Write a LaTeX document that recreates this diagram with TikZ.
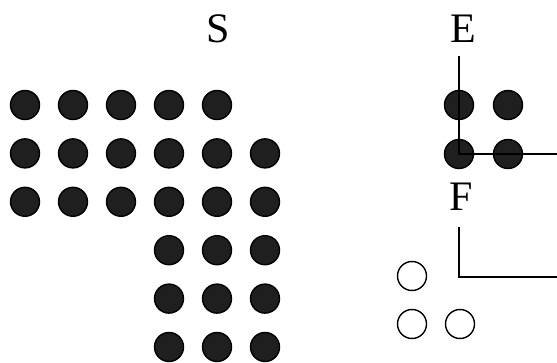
\documentclass[tikz,border=0pt]{standalone}
\usepackage{fontspec}
\setmainfont{Liberation Serif}
\usepackage{tikz}
\usetikzlibrary{arrows.meta,positioning,calc}

\begin{document}
\begin{tikzpicture}[
  x=1pt, y=-1pt,
  dot/.style={circle, draw=black, fill=black!88, line width=1.4pt,
    minimum size=29pt, inner sep=0pt},
  hole/.style={circle, draw=black, fill=white, line width=1.4pt,
    minimum size=29pt, inner sep=0pt},
  lbl/.style={font=\fontsize{42}{48}\selectfont, inner sep=0pt},
  axis/.style={line width=1.6pt},
]
  \useasboundingbox (0,0) rectangle (557,363);

  % structuring set S
  \node[lbl] (S) at (218,29) {S};
  \foreach \c in {1,...,5}
    \node[dot] (s1\c) at ({25+48*(\c-1)},105) {};
  \foreach \r in {2,3}
    \foreach \c in {1,...,6}
      \node[dot] (s\r\c) at ({25+48*(\c-1)},{105+48.4*(\r-1)}) {};
  \foreach \r in {4,5,6}
    \foreach \c in {4,5,6}
      \node[dot] (s\r\c) at ({25+48*(\c-1)},{105+48.4*(\r-1)}) {};

  % element E
  \node[lbl] (E) at (463,29) {E};
  \node[dot] (e11) at (459,105) {};
  \node[dot] (e12) at (508,105) {};
  \node[dot] (e21) at (459,154) {};
  \node[dot] (e22) at (508,154) {};
  \coordinate (eTop) at (459,56);
  \coordinate (eEnd) at (557,154);
  \draw[axis] (eTop) |- (eEnd);

  % result F
  \node[lbl] (F) at (461,197) {F};
  \node[hole] (f11) at (412,276) {};
  \node[hole] (f21) at (412,324) {};
  \node[hole] (f22) at (460,324) {};
  \coordinate (fTop) at (459,227);
  \coordinate (fEnd) at (557,277);
  \draw[axis] (fTop) |- (fEnd);
\end{tikzpicture}
\end{document}
